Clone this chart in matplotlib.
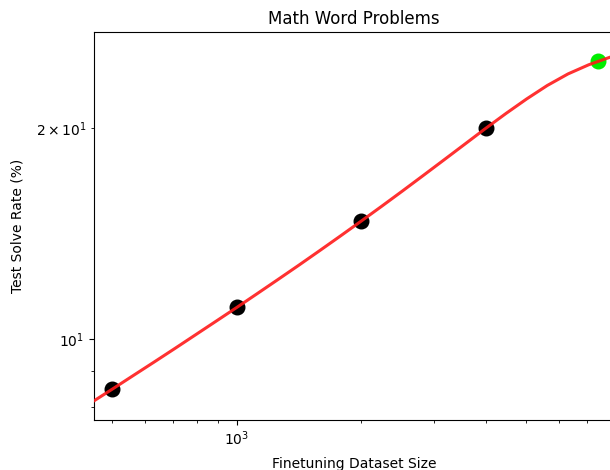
import matplotlib
matplotlib.use("Agg")
import matplotlib.pyplot as plt

# Observed data points
dataset_sizes = [500, 1000, 2000, 4000]
solve_rates = [8.48, 11.10, 14.74, 20.0]
full_size = [7473]
full_rate = [24.9]

# Fitted curve
curve_x = [452, 501, 562, 631, 708, 794, 891, 1000, 1122, 1259, 1413, 1585,
           1778, 1995, 2239, 2512, 2818, 3162, 3548, 3981, 4467, 5012, 5623,
           6310, 7079, 7943, 8147]
curve_y = [8.168, 8.491, 8.873, 9.274, 9.695, 10.139, 10.606, 11.097, 11.618,
           12.168, 12.750, 13.368, 14.024, 14.723, 15.467, 16.259, 17.103,
           17.999, 18.947, 19.947, 20.968, 21.993, 22.989, 23.878, 24.604,
           25.206, 25.328]

fig = plt.figure(figsize=(6.1, 4.7), dpi=100)
ax = fig.add_axes([94 / 610, 50 / 470, 520 / 610, 388 / 470])

ax.plot(curve_x, curve_y, color="#ff1a1a", lw=2.2, alpha=0.9, zorder=3)
ax.scatter(dataset_sizes, solve_rates, s=110, color="black", zorder=2)
ax.scatter(full_size, full_rate, s=110, color="#00ee00", zorder=2)

ax.set_xscale("log")
ax.set_yscale("log")
ax.set_xlim(452, 8150)
ax.set_ylim(7.67, 27.4)

ax.set_title("Math Word Problems", fontsize=12)
ax.set_xlabel("Finetuning Dataset Size", labelpad=6)
ax.set_ylabel("Test Solve Rate (%)", labelpad=8)

fig.savefig("out.png", dpi=100)
